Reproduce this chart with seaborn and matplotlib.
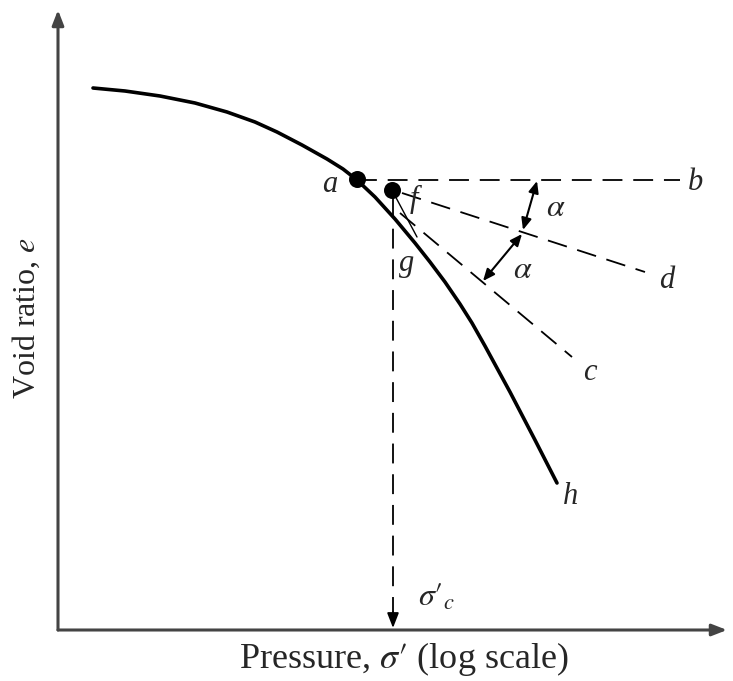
"""Casagrande construction for the preconsolidation pressure (e - log sigma' curve)."""
import matplotlib
matplotlib.use("Agg")
import matplotlib.pyplot as plt
import numpy as np
import pandas as pd
import seaborn as sns

sns.set_style("white")
plt.rcParams["font.family"] = ["Liberation Serif", "DejaVu Serif"]
plt.rcParams["mathtext.fontset"] = "stix"

# diagram drawn in picture units (x to the right, y downward)
curve_x = [93, 125, 160, 195, 227, 255, 277, 302, 327, 343, 357, 375, 395,
           415, 430, 445, 460, 472, 485, 510, 535, 557]
curve_y = [88, 91, 96, 103, 112, 122, 132, 145, 159, 169, 180, 197, 219,
           243, 262, 282, 304, 323, 346, 392, 440, 483]

point_names = ["a", "f"]
point_x = [357, 392]
point_y = [179, 190]

# dashed construction lines: (x0, y0, x1, y1)
line_ab = [357, 180, 680, 180]
line_fd = [402, 193, 645, 272]
line_fc = [400, 213, 572, 357]
line_fg = [393, 192, 417, 237]          # thin solid tangent stub
sigma_c_line = [393, 198, 393, 628]     # vertical to the pressure axis

# double-headed angle arrows
alpha_arrows = [[537, 181, 523, 230], [522, 234, 483, 281]]

labels = ["a", "f", "g", "b", "d", "c", "h"]
label_x = [330, 414, 407, 695, 667, 590, 571]
label_y = [184, 199, 264, 182, 280, 372, 497]
alpha_x = [556, 523]
alpha_y = [209, 270]

origin = (58, 630)
x_axis_end = 727
y_axis_end = 10

fig = plt.figure(figsize=(7.33, 6.81), dpi=100)
ax = fig.add_axes([0, 0, 1, 1])
ax.set_xlim(0, 733)
ax.set_ylim(681, 0)
ax.axis("off")

# axes with arrowheads
arr = dict(arrowstyle="-|>,head_length=0.9,head_width=0.35", color="#444444",
           lw=2.2, shrinkA=0, shrinkB=0)
ax.annotate("", xy=(x_axis_end, origin[1]), xytext=origin, arrowprops=arr)
ax.annotate("", xy=(origin[0], y_axis_end), xytext=origin, arrowprops=arr)

# e - log sigma' curve
curve = pd.DataFrame({"x": curve_x, "y": curve_y})
sns.lineplot(data=curve, x="x", y="y", sort=False, estimator=None,
             color="black", lw=2.6, ax=ax,
             solid_joinstyle="round", solid_capstyle="round")

# construction lines
dash = dict(color="black", lw=1.3, dashes=(11, 6))
for x0, y0, x1, y1 in [line_ab, line_fd, line_fc]:
    ax.plot([x0, x1], [y0, y1], **dash)
ax.plot([line_fg[0], line_fg[2]], [line_fg[1], line_fg[3]], color="black", lw=1.0)

x0, y0, x1, y1 = sigma_c_line
ax.plot([x0, x1], [y0, y1 - 14], **dash)
ax.annotate("", xy=(x1, y1), xytext=(x1, y1 - 16),
            arrowprops=dict(arrowstyle="-|>,head_length=0.9,head_width=0.35",
                            color="black", lw=1.3, shrinkA=0, shrinkB=0))

for x0, y0, x1, y1 in alpha_arrows:
    ax.annotate("", xy=(x1, y1), xytext=(x0, y0),
                arrowprops=dict(arrowstyle="<|-|>,head_length=0.7,head_width=0.3",
                                color="black", lw=1.5, shrinkA=0, shrinkB=0))

# points a and f
pts = pd.DataFrame({"x": point_x, "y": point_y, "name": point_names})
sns.scatterplot(data=pts, x="x", y="y", color="black", s=150, zorder=5,
                edgecolor="black", linewidth=0, ax=ax, legend=False)

for t, x, y in zip(labels, label_x, label_y):
    ax.text(x, y, t, fontsize=22, style="italic", ha="center", va="center")
for x, y in zip(alpha_x, alpha_y):
    ax.text(x, y, r"$\alpha$", fontsize=23, ha="center", va="center")
ax.text(437, 598, r"$\sigma\prime_{c}$", fontsize=23, ha="center", va="center")

ax.text(404, 659, "Pressure, $\\sigma\\prime$ (log scale)", fontsize=26,
        ha="center", va="center")
ax.text(26, 318, "Void ratio, $e$", fontsize=23, rotation=90,
        ha="center", va="center")

fig.savefig("out.png", dpi=100)
